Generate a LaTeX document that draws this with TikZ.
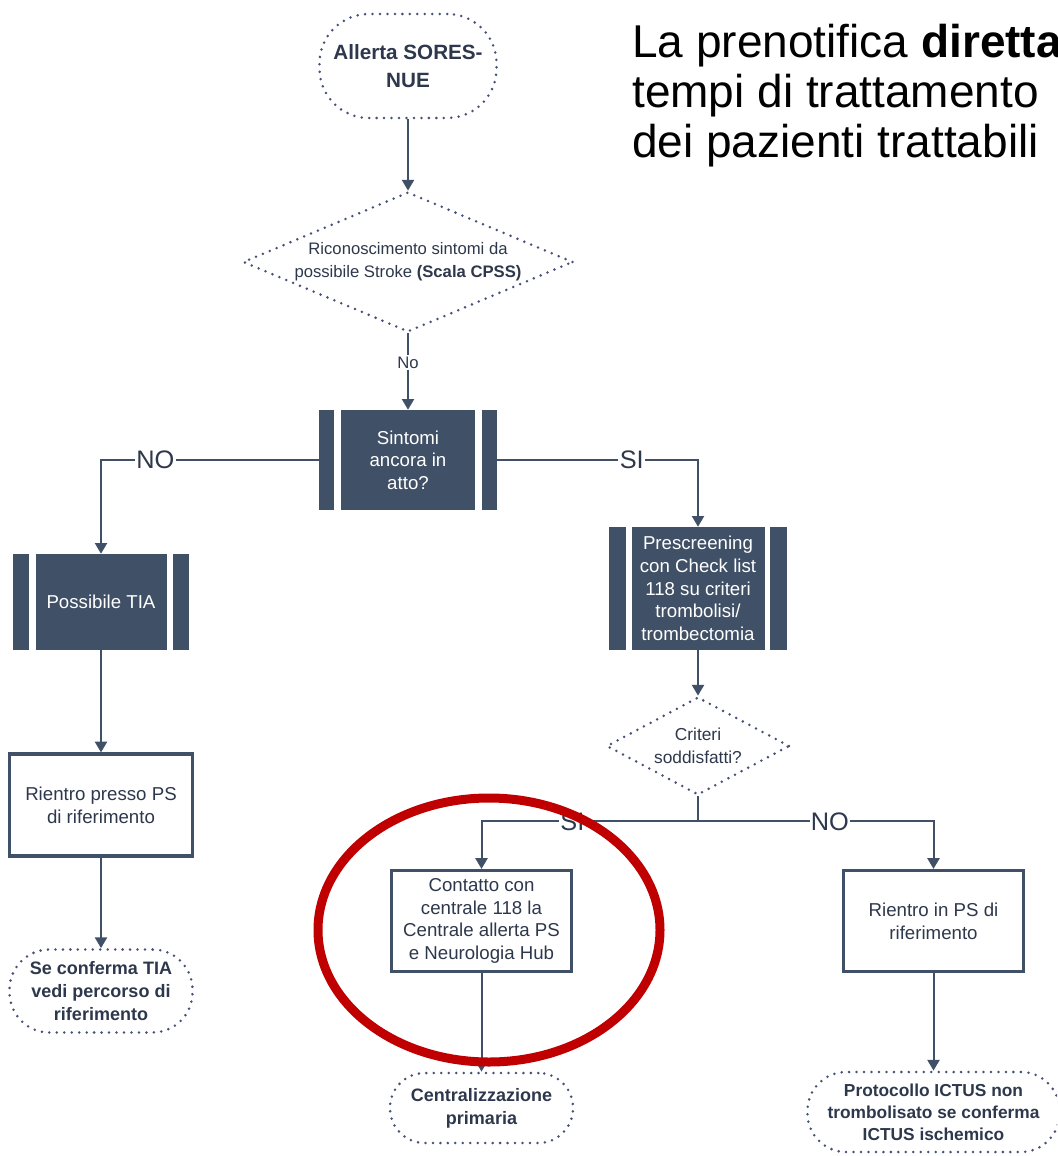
\documentclass[tikz,border=0pt]{standalone}
\usepackage{fontspec}
\setmainfont{Liberation Sans}
\usetikzlibrary{shapes.geometric,arrows.meta,calc}
\definecolor{dk}{RGB}{64,80,102}
\definecolor{tx}{RGB}{46,56,76}
\definecolor{dotc}{RGB}{70,80,120}
\definecolor{redc}{RGB}{192,0,0}
\begin{document}
\begin{tikzpicture}[x=0.75pt,y=-0.75pt,
 font=\fontsize{14}{17}\selectfont,
 arr/.style={line width=1.5pt,draw=dk,-{Triangle[width=9pt,length=8pt]}},
 ln/.style={line width=1.5pt,draw=dk},
 proc/.style={fill=dk,text=white,align=center,inner sep=1pt},
 whitebox/.style={draw=dk,line width=2.4pt,fill=white,text=tx,align=center,inner sep=2pt},
 term/.style={draw=dotc,line width=2.1pt,dash pattern=on 0pt off 5.6pt,line cap=round,align=center,text=tx,inner sep=1pt,font=\bfseries\fontsize{13.5}{17.5}\selectfont},
 dec/.style={shape=diamond,draw=dotc,line width=2.1pt,dash pattern=on 0pt off 5.6pt,line cap=round,inner sep=0pt},
 lab/.style={fill=white,text=tx,inner sep=1pt,font=\fontsize{19}{20}\selectfont}
]
\useasboundingbox (0,0) rectangle (1057,1156);
\clip (0,0) rectangle (1057,1156);
\fill[white] (0,0) rectangle (1057,1156);

% heading
\node[anchor=north west,align=left,inner sep=0pt,font=\fontsize{34.5}{37.5}\selectfont] (head) at (632,24)
 {La prenotifica \textbf{diretta}\\tempi di trattamento\\dei pazienti trattabili};

% terminals
\node[term,minimum width=132.75pt,minimum height=78pt,rounded corners=37pt,font=\bfseries\fontsize{15.5}{21.5}\selectfont] (allerta) at (408,66) {Allerta SORES-\\NUE};
\node[term,minimum width=137.25pt,minimum height=62.25pt,rounded corners=30pt] (seconf) at (101,991) {Se conferma TIA\\vedi percorso di\\riferimento};
\node[term,minimum width=137.25pt,minimum height=52.5pt,rounded corners=26pt] (central) at (481.5,1108) {Centralizzazione\\primaria};
\node[term,minimum width=189pt,minimum height=60pt,rounded corners=29pt,font=\bfseries\fontsize{13}{16.5}\selectfont] (proto) at (933.5,1112) {Protocollo ICTUS non\\trombolisato se conferma\\ICTUS ischemico};

% decisions
\node[dec,minimum width=247.5pt,minimum height=105pt,
 label={[text=tx,align=center,font=\fontsize{12.5}{17}\selectfont]center:Riconoscimento sintomi da\\possibile Stroke \textbf{(Scala CPSS)}}] (diam1) at (408,262) {};
\node[dec,minimum width=137.25pt,minimum height=73.5pt,
 label={[text=tx,align=center,font=\fontsize{13}{17}\selectfont]center:Criteri\\soddisfatti?}] (crit) at (698,746) {};

% predefined processes
\node[proc,minimum width=100.5pt,minimum height=75pt] (sint) at (408,460) {Sintomi\\ancora in\\atto?};
\fill[dk] ($(sint.north west)+(-7,0)$) rectangle ($(sint.south west)+(-22,0)$);
\fill[dk] ($(sint.north east)+(7,0)$) rectangle ($(sint.south east)+(22,0)$);
\node[proc,minimum width=98.25pt,minimum height=72pt] (tia) at (101,602) {Possibile TIA};
\fill[dk] ($(tia.north west)+(-6,0)$) rectangle ($(tia.south west)+(-22,0)$);
\fill[dk] ($(tia.north east)+(6,0)$) rectangle ($(tia.south east)+(22,0)$);
\node[proc,minimum width=99.75pt,minimum height=92.25pt] (pres) at (698,588.5) {Prescreening\\con Check list\\118 su criteri\\trombolisi/\\trombectomia};
\fill[dk] ($(pres.north west)+(-5,0)$) rectangle ($(pres.south west)+(-22,0)$);
\fill[dk] ($(pres.north east)+(5,0)$) rectangle ($(pres.south east)+(22,0)$);

% white boxes
\node[whitebox,minimum width=137pt,minimum height=76.5pt] (rien1) at (101,805) {Rientro presso PS\\di riferimento};
\node[whitebox,minimum width=135pt,minimum height=75.75pt] (cont) at (481.5,921) {Contatto con\\centrale 118 la\\Centrale allerta PS\\e Neurologia Hub};
\node[whitebox,minimum width=135pt,minimum height=75.75pt] (rien2) at (933.5,921) {Rientro in PS di\\riferimento};

% connectors
\coordinate (sintL) at ($(sint.west)+(-22,0)$);
\coordinate (sintR) at ($(sint.east)+(22,0)$);
\coordinate (j) at ($(crit.south)+(0,25)$);
\draw[arr] (allerta) -- (diam1);
\draw[arr] (diam1.south) -- node[lab,pos=0.38,font=\fontsize{12.5}{14}\selectfont]{No} (sint.north);
\draw[arr] (sintL) -| node[lab,pos=0.375]{NO} (tia.north);
\draw[arr] (sintR) -| node[lab,pos=0.335]{SI} (pres.north);
\draw[arr] (pres) -- (crit);
\draw[ln] (crit.south) -- (j);
\draw[arr] (j) -| node[lab,pos=0.29]{SI} (cont.north);
\draw[arr] (j) -| node[lab,pos=0.28]{NO} (rien2.north);
\draw[arr] (tia) -- (rien1);
\draw[arr] (rien1) -- (seconf);
\draw[arr] (cont) -- (central);
\draw[arr] (rien2) -- (proto);

% red highlight
\draw[redc,line width=6.75pt] (489,930) ellipse [x radius=128.25pt,y radius=99pt];
\end{tikzpicture}
\end{document}
